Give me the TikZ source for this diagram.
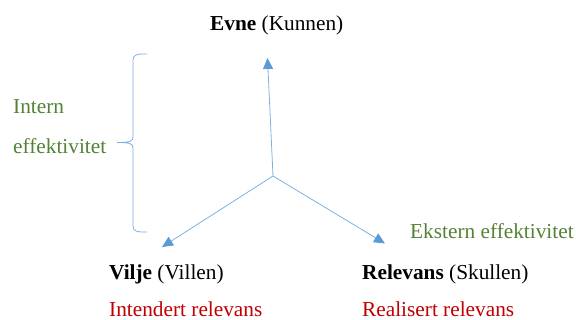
\documentclass[tikz,border=0pt]{standalone}
\usepackage{fontspec}
\setmainfont{Liberation Serif}
\usetikzlibrary{arrows.meta}
\definecolor{lblue}{HTML}{5B9BD5}
\definecolor{lineblue}{HTML}{7EB0E0}
\definecolor{dgreen}{HTML}{548235}
\definecolor{dred}{HTML}{C00000}
\tikzset{
  txt/.style={inner sep=0pt, anchor=base west, font=\fontsize{21.3}{25}\selectfont},
  greentxt/.style={txt, text=dgreen},
  redtxt/.style={txt, text=dred},
  axis/.style={draw=lineblue, line width=0.8pt, -{Triangle[length=11pt,width=10pt,fill=lblue,color=lblue]}},
  bracestyle/.style={draw=lineblue, line width=0.8pt}
}
\begin{document}
\begin{tikzpicture}[x=1pt,y=-1pt]
\useasboundingbox (0,0) rectangle (576,320);
% labels
\node[txt] (evne) at (210,31) {\textbf{Evne} (Kunnen)};
\node[greentxt] (intern) at (13,114) {Intern};
\node[greentxt] (eff) at (13,154) {effektivitet};
\node[greentxt] (ekstern) at (410,239) {Ekstern effektivitet};
\node[txt] (vilje) at (109,280) {\textbf{Vilje} (Villen)};
\node[redtxt] (intendert) at (109,316.5) {Intendert relevans};
\node[txt] (relevans) at (362,280) {\textbf{Relevans} (Skullen)};
\node[redtxt] (realisert) at (362,316.5) {Realisert relevans};
% axes
\coordinate (c) at (273,176);
\coordinate (up) at (267.5,58);
\coordinate (left) at (162,247);
\coordinate (right) at (385,243.5);
\draw[axis] (c) -- (up);
\draw[axis] (c) -- (left);
\draw[axis] (c) -- (right);
% brace
\coordinate (btop) at (147,54);
\coordinate (bbot) at (147,232);
\coordinate (bmid) at (117,142.5);
\draw[bracestyle] (btop) .. controls (138,54) and (133,54) .. (133,60)
  -- (133,137) .. controls (133,141) and (131,142.5) .. (bmid)
  .. controls (131,142.5) and (133,144) .. (133,148)
  -- (133,226) .. controls (133,232) and (138,232) .. (bbot);
\end{tikzpicture}
\end{document}
